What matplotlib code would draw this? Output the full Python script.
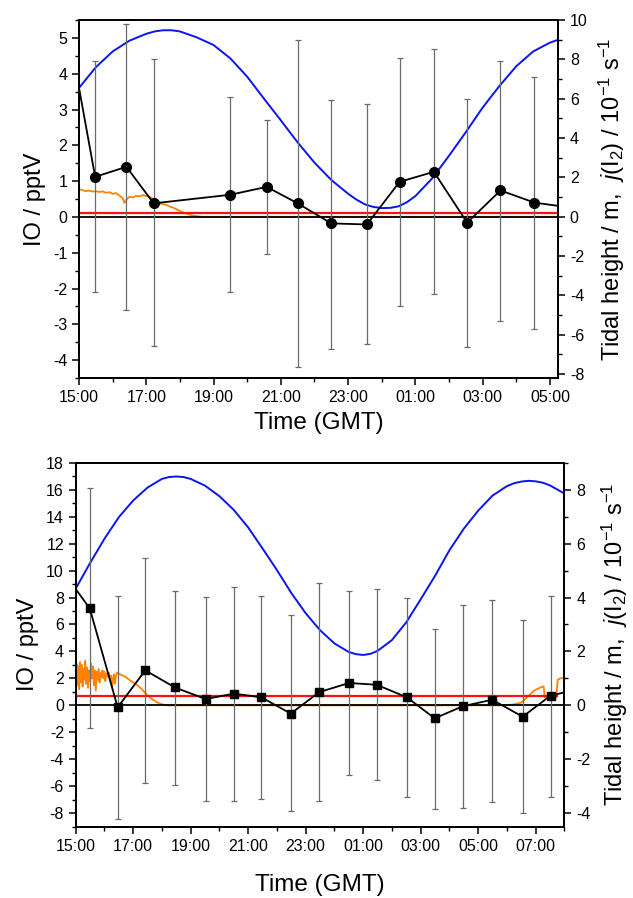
import matplotlib.pyplot as plt
from matplotlib.ticker import MultipleLocator, FixedLocator, FixedFormatter

plt.rcParams['font.family'] = ['Liberation Sans', 'DejaVu Sans']
plt.rcParams['mathtext.fontset'] = 'custom'
plt.rcParams['mathtext.rm'] = 'Liberation Sans'
plt.rcParams['mathtext.it'] = 'Liberation Sans:italic'
plt.rcParams['axes.unicode_minus'] = False

# time axis = hours after 15:00 GMT

# ---- top panel ----
top_xlabels = ['15:00', '17:00', '19:00', '21:00', '23:00', '01:00', '03:00', '05:00']

top_io_time = [-0.5, 0.48, 1.41, 2.22, 4.50, 5.58, 6.50, 7.50, 8.56, 9.53, 10.55, 11.54, 12.53, 13.54, 14.55]
top_io = [6.2, 1.12, 1.40, 0.38, 0.62, 0.84, 0.38, -0.18, -0.21, 0.98, 1.26, -0.16, 0.74, 0.40, 0.27]
top_io_hi = [6.2, 4.35, 5.40, 4.40, 3.35, 2.72, 4.94, 3.28, 3.15, 4.45, 4.69, 3.29, 4.36, 3.91, 0.27]
top_io_lo = [6.2, -2.10, -2.60, -3.60, -2.10, -1.03, -4.20, -3.68, -3.56, -2.50, -2.16, -3.62, -2.90, -3.12, 0.27]

top_tide_time = [0.0, 0.5, 1.0, 1.5, 2.0, 2.25, 2.5, 2.75, 3.0, 3.5, 4.0, 4.5, 5.0, 5.5, 6.0, 6.5, 7.0, 7.5,
                 8.0, 8.25, 8.5, 8.75, 9.0, 9.25, 9.5, 9.75, 10.0, 10.5, 11.0, 11.5, 12.0, 12.5, 13.0,
                 13.5, 14.0, 14.5]
top_tide = [6.55, 7.60, 8.40, 8.95, 9.30, 9.42, 9.48, 9.48, 9.42, 9.12, 8.73, 8.05, 7.12, 6.00, 4.90,
            3.78, 2.75, 1.87, 1.17, 0.87, 0.63, 0.50, 0.44, 0.45, 0.53, 0.74, 1.05, 1.95, 3.10, 4.30,
            5.55, 6.65, 7.65, 8.40, 8.85, 9.15]

top_jI2_time = [0.0, 0.1, 0.2, 0.3, 0.4, 0.5, 0.6, 0.7, 0.8, 0.9, 1.0, 1.1, 1.2, 1.3, 1.35, 1.4, 1.5,
                1.6, 1.7, 1.8, 1.9, 2.0, 2.1, 2.2, 2.3, 2.4, 2.5, 2.6, 2.7, 2.8, 2.9, 3.0, 3.1, 3.2,
                3.3, 3.4, 3.5, 3.6, 3.7, 14.5]
top_jI2 = [1.40, 1.36, 1.30, 1.33, 1.28, 1.30, 1.26, 1.29, 1.22, 1.25, 1.16, 1.20, 1.08, 0.95, 0.70,
           0.85, 1.02, 0.98, 1.06, 1.04, 1.10, 1.05, 1.02, 0.90, 0.75, 0.68, 0.64, 0.60, 0.52, 0.46,
           0.38, 0.30, 0.22, 0.15, 0.10, 0.06, 0.03, 0.01, 0.0, 0.0]

top_red_time = [0.0, 14.2]
top_red = [0.12, 0.12]

# ---- bottom panel ----
bot_xlabels = ['15:00', '17:00', '19:00', '21:00', '23:00', '01:00', '03:00', '05:00', '07:00']

bot_io_time = [-0.5, 0.49, 1.46, 2.42, 3.45, 4.52, 5.50, 6.46, 7.48, 8.48, 9.51, 10.47, 11.52,
               12.49, 13.46, 14.49, 15.55, 16.52, 17.5]
bot_io = [10.1, 7.19, -0.15, 2.60, 1.33, 0.47, 0.87, 0.60, -0.61, 0.99, 1.66, 1.53, 0.60,
          -0.96, -0.07, 0.42, -0.84, 0.72, 1.21]
bot_io_hi = [10.1, 16.1, 8.1, 10.9, 8.52, 8.07, 8.79, 8.15, 6.70, 9.09, 8.52, 8.60, 7.93,
             5.70, 7.44, 7.83, 6.35, 8.15, 1.21]
bot_io_lo = [10.1, -1.7, -8.4, -5.75, -5.87, -7.1, -7.1, -6.94, -7.82, -7.1, -5.2, -5.5, -6.81,
             -7.68, -7.6, -7.2, -8.0, -6.79, 1.21]

bot_tide_time = [0.0, 0.5, 1.0, 1.5, 2.0, 2.5, 3.0, 3.25, 3.5, 3.75, 4.0, 4.5, 5.0, 5.5, 6.0, 6.5,
                 7.0, 7.5, 8.0, 8.5, 9.0, 9.5, 9.75, 10.0, 10.25, 10.5, 11.0, 11.5, 12.0, 12.5, 13.0,
                 13.5, 14.0, 14.5, 15.0, 15.25, 15.5, 15.75, 16.0, 16.25, 16.5, 17.0]
bot_tide = [4.33, 5.28, 6.18, 6.98, 7.60, 8.08, 8.40, 8.47, 8.49, 8.47, 8.40, 8.15, 7.76, 7.25,
            6.60, 5.82, 5.02, 4.17, 3.42, 2.79, 2.30, 1.98, 1.90, 1.87, 1.91, 2.02, 2.42, 3.08,
            3.93, 4.80, 5.75, 6.55, 7.22, 7.78, 8.13, 8.24, 8.30, 8.33, 8.31, 8.26, 8.16, 7.86]

bot_jI2_time = [0.00, 0.03, 0.06, 0.09, 0.12, 0.15, 0.18, 0.21, 0.24, 0.27, 0.30, 0.33, 0.36, 0.40,
                0.43, 0.46, 0.50, 0.53, 0.56, 0.60, 0.63, 0.66, 0.70, 0.73, 0.76, 0.80, 0.83, 0.86,
                0.90, 0.93, 0.96, 1.00, 1.03, 1.06, 1.10, 1.13, 1.16, 1.20, 1.23, 1.26, 1.30, 1.33,
                1.36, 1.40, 1.44, 1.50, 1.60, 1.70, 1.80, 1.90, 2.00, 2.10, 2.20, 2.30, 2.40, 2.50,
                2.60, 2.70, 2.80, 2.90, 3.00, 3.10, 3.20, 14.8, 15.2, 15.5, 15.7, 15.95, 16.2, 16.28,
                16.32, 16.5, 16.72, 16.77, 16.85, 17.0]
bot_jI2 = [0.90, 1.55, 0.75, 1.45, 0.60, 1.60, 0.85, 1.50, 0.70, 1.35, 0.95, 1.65, 0.80, 1.40,
           0.65, 1.30, 0.90, 1.55, 1.00, 1.45, 0.75, 1.30, 0.55, 1.25, 0.95, 1.35, 0.85, 1.20,
           1.05, 1.30, 1.00, 1.25, 0.90, 1.15, 1.20, 1.05, 1.20, 0.95, 1.10, 0.70, 1.00, 1.15,
           0.80, 1.10, 1.22, 1.18, 1.12, 1.08, 1.00, 0.92, 0.85, 0.78, 0.70, 0.60, 0.48, 0.38,
           0.28, 0.20, 0.13, 0.08, 0.04, 0.02, 0.0, 0.0, 0.03, 0.10, 0.30, 0.55, 0.68, 0.70,
           0.30, 0.28, 0.30, 0.95, 1.00, 1.02]

bot_red_time = [0.0, 16.75]
bot_red = [0.72, 0.72]


def style_axes(ax, axr, xmax, xlabels, yl, ylmaj, yr, yrmaj, xlabelpad):
    ax.set_xlim(0, xmax)
    ax.set_ylim(*yl)
    axr.set_ylim(*yr)
    ax.xaxis.set_major_locator(FixedLocator(range(0, 2 * len(xlabels), 2)))
    ax.xaxis.set_major_formatter(FixedFormatter(xlabels))
    ax.xaxis.set_minor_locator(MultipleLocator(1))
    ax.yaxis.set_major_locator(MultipleLocator(ylmaj))
    ax.yaxis.set_minor_locator(MultipleLocator(ylmaj / 2))
    axr.yaxis.set_major_locator(MultipleLocator(yrmaj))
    axr.yaxis.set_minor_locator(MultipleLocator(yrmaj / 2))
    for a in (ax, axr):
        a.tick_params(which='major', direction='out', length=5, width=1.1, labelsize=11.5)
        a.tick_params(which='minor', direction='out', length=3, width=1.0)
        for s in a.spines.values():
            s.set_linewidth(1.3)
    ax.tick_params(top=False, which='both')
    ax.set_xlabel('Time (GMT)', fontsize=17.5, labelpad=xlabelpad)
    ax.set_ylabel('IO / pptV', fontsize=17, labelpad=5)
    axr.set_ylabel(r'Tidal height / m,  $\mathit{j}$(I$_2$) / 10$^{-1}$ s$^{-1}$', fontsize=17, labelpad=7)
    ax.set_zorder(axr.get_zorder() + 1)
    ax.patch.set_visible(False)


def draw_panel(ax, axr, io_t, io, hi, lo, marker, tide_t, tide, j_t, j, red_t, red):
    yerr = [[v - l for v, l in zip(io, lo)], [h - v for v, h in zip(io, hi)]]
    ax.axhline(0, color='black', lw=1.3, zorder=1)
    ax.plot(red_t, red, color='#ff1010', lw=1.6, zorder=2)
    ax.errorbar(io_t, io, yerr=yerr, fmt='none', ecolor='#6a6a6a', elinewidth=0.9,
                capsize=2.2, capthick=0.9, zorder=3)
    ax.plot(io_t, io, color='black', lw=1.3, marker=marker, markersize=7 if marker == 'o' else 6.2,
            markerfacecolor='black', markeredgecolor='black', zorder=4)
    axr.plot(tide_t, tide, color='#0a14f0', lw=1.4)
    axr.plot(j_t, j, color='#ff8300', lw=1.3)


fig = plt.figure(figsize=(6.33, 8.98), dpi=100)

ax1 = fig.add_axes([0.1248, 0.579, 0.7567, 0.3987])
ax1r = ax1.twinx()
draw_panel(ax1, ax1r, top_io_time, top_io, top_io_hi, top_io_lo, 'o',
           top_tide_time, top_tide, top_jI2_time, top_jI2, top_red_time, top_red)
style_axes(ax1, ax1r, 14.24, top_xlabels, (-4.5, 5.5), 1, (-8.2, 10), 2, 5)

ax2 = fig.add_axes([0.1196, 0.0794, 0.7719, 0.4053])
ax2r = ax2.twinx()
draw_panel(ax2, ax2r, bot_io_time, bot_io, bot_io_hi, bot_io_lo, 's',
           bot_tide_time, bot_tide, bot_jI2_time, bot_jI2, bot_red_time, bot_red)
style_axes(ax2, ax2r, 17.0, bot_xlabels, (-9, 18), 2, (-4.5, 9), 2, 15)

fig.savefig('out.png', dpi=100)
